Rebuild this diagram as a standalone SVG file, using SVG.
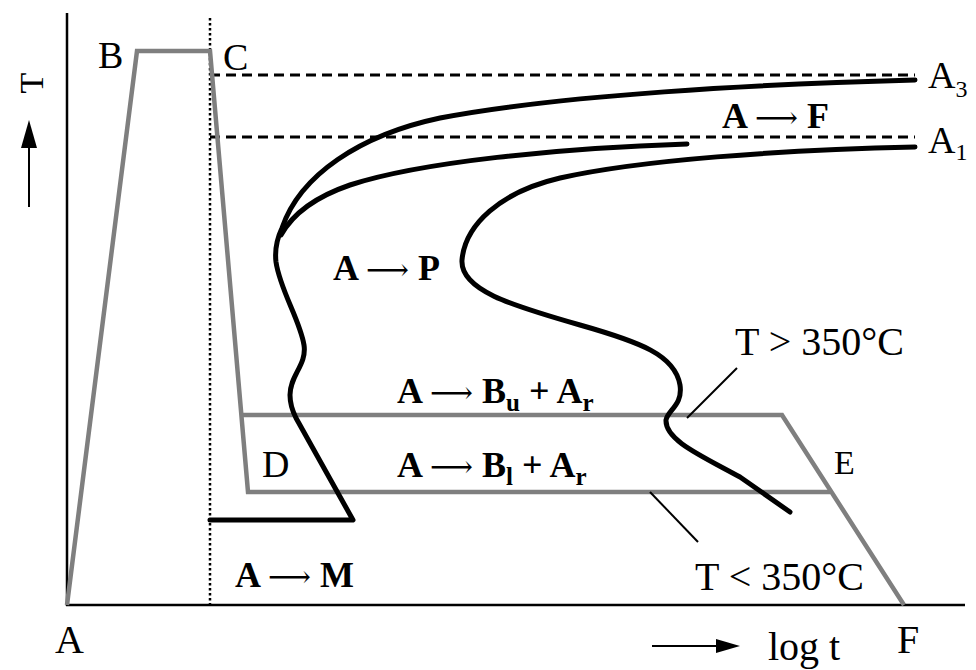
<svg xmlns="http://www.w3.org/2000/svg" width="976" height="670" viewBox="0 0 976 670">
<style>
.ax{stroke:#000;stroke-width:2.5;fill:none}
.gray{stroke:#7f7f7f;stroke-width:4.5;fill:none;stroke-linejoin:miter}
.curve{stroke:#000;stroke-width:5;fill:none;stroke-linecap:round;stroke-linejoin:round}
.dash{stroke:#000;stroke-width:3;stroke-dasharray:10 6;fill:none}
.dot{stroke:#000;stroke-width:2.5;stroke-dasharray:2.5 2.5;fill:none}
.thin{stroke:#000;stroke-width:2;fill:none}
text{font-family:'Liberation Serif','DejaVu Serif',serif;fill:#000}
.lbl{font-size:38px}
.big{font-size:40px}
.b{font-size:36px;font-weight:bold}
.ar{font-family:'DejaVu Serif',serif;font-weight:normal;font-size:30px}
</style>
<rect width="976" height="670" fill="#fff"/>
<g id="axes">
<line class="ax" x1="67" y1="13" x2="67" y2="606"/>
<line class="ax" x1="66" y1="605" x2="965" y2="605"/>
<line class="thin" x1="29" y1="207" x2="29" y2="144"/>
<polygon points="29,120 21,148 37,148" fill="#000"/>
<line class="thin" x1="652" y1="646" x2="720" y2="646"/>
<polygon points="740,646 716,639 716,653" fill="#000"/>
</g>
<g id="reference-lines">
<line class="dot" x1="210" y1="18" x2="210" y2="605"/>
<line class="dash" x1="210" y1="75" x2="915" y2="75"/>
<line class="dash" x1="210" y1="137" x2="915" y2="137"/>
</g>
<g id="process-path">
<polyline class="gray" points="67,605 137,51 210,51 248,492 830,492"/>
<polyline class="gray" points="242,415 782,415 904,605"/>
</g>
<g id="connectors">
<path class="curve" d="M915,80 C760,84 560,95 440,118 C360,135 300,175 282,228 Q274,245 276,262 C280,290 300,320 304,345 C307,365 290,375 290,395 C290,405 293,412 296,418 L353,520 L210,520"/>
<path class="curve" d="M687,144 C560,148 420,162 350,185 C315,197 292,215 281,235"/>
<path class="curve" d="M915,147 C780,150 640,160 560,178 C500,192 465,225 462,260 C460,290 510,305 580,325 C640,342 675,355 680,385 C683,405 668,410 666,420 C665,440 700,455 740,477 L790,512"/>
<line class="thin" x1="687" y1="418" x2="737" y2="368"/>
<line class="thin" x1="650" y1="492" x2="698" y2="542"/>
</g>
<g id="labels">
<text transform="translate(43,83) rotate(-90)" text-anchor="middle" style="font-size:34px">T</text>
<text class="lbl" x="98" y="68">B</text>
<text class="lbl" x="223" y="70">C</text>
<text class="lbl" x="262" y="477">D</text>
<text class="lbl" x="834" y="474" style="font-size:34px">E</text>
<text class="big" x="897" y="653">F</text>
<text class="big" x="55" y="653">A</text>
<text class="lbl" x="928" y="88">A<tspan font-size="24" dy="9">3</tspan></text>
<text class="lbl" x="928" y="153">A<tspan font-size="24" dy="7">1</tspan></text>
<text class="big" x="735" y="355">T &gt; 350°C</text>
<text class="big" x="695" y="590">T &lt; 350°C</text>
<text class="big" x="768" y="660">log t</text>
<text class="b" x="722" y="128">A <tspan class="ar">⟶</tspan> F</text>
<text class="b" x="333" y="280">A <tspan class="ar">⟶</tspan> P</text>
<text class="b" x="397" y="403">A <tspan class="ar">⟶</tspan> B<tspan font-size="25" dy="8">u</tspan><tspan dy="-8"> + A</tspan><tspan font-size="25" dy="8">r</tspan></text>
<text class="b" x="397" y="477">A <tspan class="ar">⟶</tspan> B<tspan font-size="25" dy="8">l</tspan><tspan dy="-8"> + A</tspan><tspan font-size="25" dy="8">r</tspan></text>
<text class="b" x="235" y="587">A <tspan class="ar">⟶</tspan> M</text>
</g>
</svg>
